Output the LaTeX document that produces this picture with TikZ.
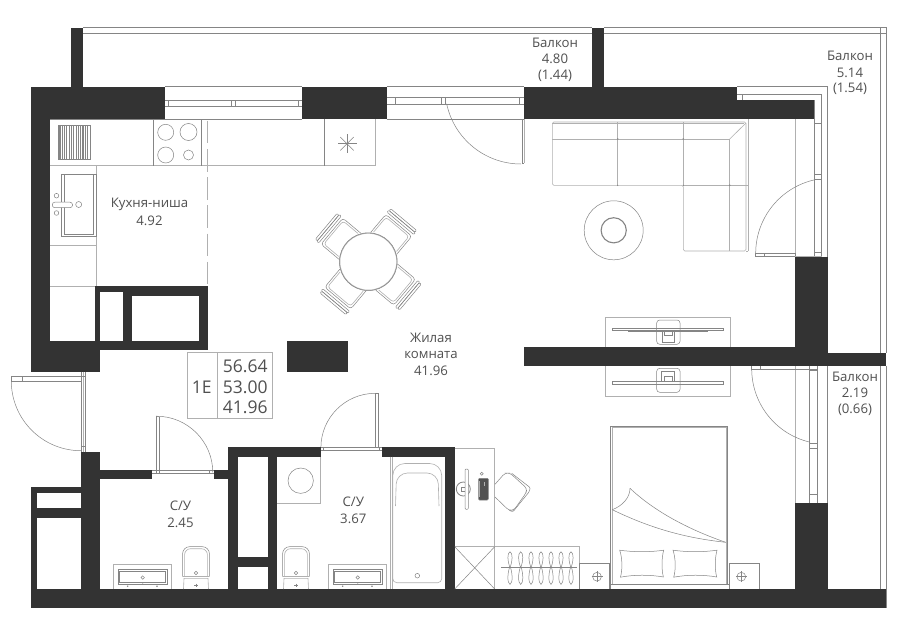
\documentclass[tikz,border=0pt]{standalone}
\usepackage{fontspec}
\setmainfont{Open Sans}
\definecolor{wallc}{HTML}{333333}
\definecolor{linec}{HTML}{858585}
\definecolor{lightc}{HTML}{B0B0B0}
\definecolor{textc}{HTML}{505050}
\tikzset{
  wall/.style={fill=wallc,draw=none},
  hole/.style={fill=white,draw=none},
  ln/.style={draw=linec,line width=0.5pt},
  lt/.style={draw=lightc,line width=0.6pt},
  lab/.style={text=textc,font=\fontsize{13.2}{16}\selectfont,inner sep=0pt,anchor=center},
  big/.style={text=textc,font=\fontsize{17.5}{20}\selectfont,inner sep=0pt,anchor=center},
}
\newcommand{\chairtop}[1]{%
  \begin{scope}[shift={(368.3,261.7)},rotate=#1]
    \draw[ln,rounded corners=3pt] (24,-17)--(47.5,-17)--(47.5,17)--(24,17);
    \draw[lt,rounded corners=3pt] (26,-15)--(45.5,-15)--(45.5,15)--(26,15);
    \draw[ln,rounded corners=1pt] (50,-17.5) rectangle (52.5,17.5);
    \draw[ln,rounded corners=1pt] (52.5,-16.8) rectangle (55,16.8);
  \end{scope}}
\newcommand{\hanger}[1]{%
  \draw[ln] (#1,551.8) .. controls (#1-3,553) and (#1-2.5,561) .. (#1-0.3,567)
   .. controls (#1-2.5,573) and (#1-3,583) .. (#1,584.4)
   .. controls (#1+3,583) and (#1+2.5,573) .. (#1+0.3,567)
   .. controls (#1+2.5,561) and (#1+3,553) .. (#1,551.8) -- cycle;}
\newcommand{\sinkunit}[1]{%
  \begin{scope}[xshift=#1]
    \draw[lt] (113.3,589)--(113.3,564.3)--(171.7,564.3)--(171.7,589);
    \draw[ln] (118,569.3) rectangle (167,584);
    \draw[ln] (119.7,571) rectangle (165.3,582.3);
    \draw[ln] (142.7,577.5) circle (1.7);
    \fill[linec] (127.7,586.2) circle (0.8) (157,586.2) circle (0.8) (142.7,582.8) circle (0.8);
  \end{scope}}
\newcommand{\toiletunit}[1]{%
  \begin{scope}[xshift=#1]
    \draw[ln,rounded corners=7pt] (182.6,576.5)--(182.6,546.7)--(209.4,546.7)--(209.4,576.5);
    \draw[lt,rounded corners=6pt] (184.6,576.5)--(184.6,548.7)--(207.4,548.7)--(207.4,576.5);
    \draw[lt] (182.6,576.7)--(209.4,576.7);
    \draw[lt] (183.5,589)--(184,578.4)--(208,578.4)--(208.5,589);
    \draw[ln] (196,573) circle (1.7);
    \draw[linec,line width=0.8pt] (194.3,585.4)--(197.7,585.4) (196,583.7)--(196,587.1);
  \end{scope}}
\newcommand{\pillow}[1]{%
  \begin{scope}[xshift=#1]
    \draw[ln] (619.7,550.2) .. controls (634,552.2) and (650,552.2) .. (663.7,550.2)
      .. controls (661.5,558) and (661.5,570) .. (663.4,577)
      .. controls (650,574.6) and (634,574.6) .. (620.4,577.2)
      .. controls (622.6,570) and (622.4,558) .. (619.7,550.2) -- cycle;
  \end{scope}}
\begin{document}
\begin{tikzpicture}[x=1pt,y=-1pt]
\useasboundingbox (0,0) rectangle (900,637);
\fill[white] (0,0) rectangle (900,637);

%% ---- thin outlines under the walls ----
% balconies
\draw[ln] (83,27.5)--(591.7,27.5) (83,33.5)--(591.7,33.5);
\draw[ln] (604.3,27.5)--(886.3,27.5)--(886.3,353.3);
\draw[ln] (604.3,33.5)--(880,33.5)--(880,353.3);
\draw[ln] (880,27.5)--(880,33.5)--(886.3,33.5);
\draw[ln] (886.3,366)--(886.3,608) (880,366)--(880,597.3);
\draw[ln] (827.7,366)--(827.7,597.3)--(880,597.3);
% first window
\draw[ln] (165,86.7)--(302.3,86.7) (165,119.3)--(302.3,119.3);
\draw[ln] (165,100)--(302.3,100) (165,106)--(302.3,106);
\draw[ln] (168.7,100)--(168.7,106) (231.3,100)--(231.3,106) (235.7,100)--(235.7,106) (298.3,100)--(298.3,106);
% second window and door
\draw[ln] (386.7,86.7)--(523.7,86.7) (386.7,119.3)--(523.7,119.3);
\draw[ln] (386.7,97.3)--(523.7,97.3) (386.7,104.3)--(523.7,104.3);
\draw[ln] (395.3,97.3)--(395.3,104.3) (441.3,97.3)--(441.3,104.3) (445.7,97.3)--(445.7,104.3) (519.3,97.3)--(519.3,104.3);
\draw[ln] (522.2,119.3)--(522.2,163)--(524,163);
\draw[lt] (524,119.3)--(524,163);
\draw[ln] (521,88) ++(168:76) arc[start angle=168,end angle=90,radius=76];
% right window and door
\draw[ln] (737.3,86.7)--(827.7,86.7)--(827.7,256.7);
\draw[ln] (737.3,94)--(821.7,94)--(821.7,256.7);
\draw[ln] (814,100)--(814,256.7);
\draw[ln] (742,94)--(742,100);
\draw[ln] (814,123.4)--(821.7,123.4) (814,174.7)--(821.7,174.7) (814,179)--(821.7,179) (814,252.3)--(821.7,252.3);
\draw[lt] (795,119.3)--(795,256.7);
\draw[lt] (748.3,119.3)--(748.3,251);
\draw[ln] (755.7,253.3) rectangle (795,256.7);
\draw[ln] (764.7,253.3)--(764.7,256.7);
\draw[lt] (795,256.7)--(821.7,256.7);
\draw[ln] (831,253.3) ++(180:75.3) arc[start angle=180,end angle=258,radius=75.3];
% lower right window and door
\draw[lt] (795,366)--(795,503.3);
\draw[ln] (809.7,366)--(809.7,503.3) (817.3,366)--(817.3,503.3);
\draw[ln] (751.7,366)--(751.7,368.8)--(817.3,368.8);
\draw[ln] (760.7,366)--(760.7,368.8);
\draw[ln] (809.7,370.4)--(817.3,370.4) (809.7,443.7)--(817.3,443.7) (809.7,448.4)--(817.3,448.4) (809.7,494.5)--(817.3,494.5);
\draw[ln] (827,368.8) ++(180:75.3) arc[start angle=180,end angle=103,radius=75.3];

% entrance door
\draw[ln] (81,371.7)--(81,451.7) (85.7,371.7)--(85.7,451.7);
\draw[lt] (83.3,371.7)--(83.3,451.7);
\draw[ln] (81,376.7)--(85.7,376.7) (81,446.7)--(85.7,446.7);
\draw[ln] (11.3,376.7) rectangle (81,381);
\draw[ln] (22.3,376.7)--(22.3,381);
\draw[ln] (81,381) ++(180:69.7) arc[start angle=180,end angle=90,radius=69.7];
% door of bathroom 2.45
\draw[ln] (152.3,470)--(213.7,470) (152.3,473)--(213.7,473);
\draw[ln] (156.5,470)--(156.5,473) (209.7,470)--(209.7,473);
\draw[ln] (156.4,416.2)--(156.4,473) (159,416.8)--(159,473);
\draw[ln] (156.4,416.2)--(159,416.8);
\draw[ln] (156.4,472.4) ++(270:56.2) arc[start angle=270,end angle=360,radius=56.4];
% door of bathroom 3.67
\draw[ln] (320.7,446.9)--(382.3,446.9) (320.7,450.3)--(382.3,450.3);
\draw[ln] (323.7,446.9)--(323.7,450.3) (379,446.9)--(379,450.3);
\draw[ln] (375.3,393.3) rectangle (378.7,447);
\draw[ln] (375.3,447.7) ++(180:54.4) arc[start angle=180,end angle=270,radius=54.4];

%% ---- walls ----
\fill[wall] (71,27.5) rectangle (83.3,87);
\fill[wall] (591.7,27.5) rectangle (604.3,87);
\fill[wall] (31,86.7) rectangle (165,119.3);
\fill[wall] (31,86.7) rectangle (50.3,371.7);
\fill[wall] (302.3,86.7) rectangle (386.7,119.3);
\fill[wall] (523.7,86.7) rectangle (737.3,119.3);
\fill[wall] (737,100) rectangle (814,119.3);
\fill[wall] (795,256.7) rectangle (827.7,353.3);
\fill[wall] (523.7,346.7) rectangle (827.7,366);
\fill[wall] (827,353.3) rectangle (886.3,366);
\fill[wall] (795,503.3) rectangle (827.7,597.5);
\fill[wall] (31,589) rectangle (886.3,608.3);
\fill[wall] (827,597.3) rectangle (886.3,608.3);
% niche
\fill[wall] (95.3,286) rectangle (207.7,350);
\fill[hole] (100.3,291.7) rectangle (123,340.7);
\fill[hole] (132.3,295.5) rectangle (198.7,340.7);
\fill[wall] (31,340.7) rectangle (95.5,350);
\fill[wall] (31,350) rectangle (100,371.7);
\fill[wall] (286.7,340.7) rectangle (348.3,371.7);
% lower walls
\fill[wall] (81,451.7) rectangle (100,589.5);
\fill[wall] (100,470) rectangle (152.3,479.3);
\fill[wall] (213.7,470) rectangle (228.5,479.3);
\fill[wall] (31,486.7) rectangle (81.5,589.5);
\fill[hole] (37.3,493.3) rectangle (81,508);
\fill[hole] (37.3,517.7) rectangle (81,589);
\fill[wall] (228.3,446.7) rectangle (277.3,589.5);
\fill[hole] (237.7,456.7) rectangle (268,557);
\fill[hole] (237.7,566.7) rectangle (268,589);
\fill[wall] (228.3,446.7) rectangle (320.7,456.7);
\fill[wall] (382.3,446.7) rectangle (454.7,456.7);
\fill[wall] (444.7,446.7) rectangle (454.7,589.5);

%% ---- kitchen ----
\draw[lt] (50.3,165.7)--(375,165.7)--(375,119.3);
\draw[ln] (50.3,119.6)--(165,119.6) (153.3,119.3)--(153.3,165.7) (201.5,119.3)--(201.5,165.7) (324.3,119.3)--(324.3,165.7);
\draw[lt,dash pattern=on 22.5pt off 5.7pt] (207.4,120.8)--(207.4,286);
\draw[ln] (58.3,125.3) rectangle (90.7,159);
\foreach \xx in {60,62.3,64.6,66.9,69.2,71.5,73.8,76.1,78.4,80.7,83,85.3,87.6}
  \draw[linec,line width=1.1pt] (\xx,125.6)--(\xx,158.7);
\draw[ln] (165.7,132.3) circle (8) (188.5,132) circle (8.5) (165.7,155) circle (8) (188.5,155) circle (5);
\foreach \aa in {0,45,...,315}
  \draw[ln] (347,143.7)--++(\aa:9.5);
\fill[linec] (347,143.7) circle (1);
\draw[lt] (96.3,165.7)--(96.3,286) (50.3,245)--(96.3,245) (50.3,286)--(95.3,286);
\draw[ln] (61.3,174.7) rectangle (96,236.3);
\draw[ln] (64.7,175)--(64.7,234)--(93.7,234)--(93.7,175);
\draw[ln,fill=white,rounded corners=2.5pt] (52.3,202.2) rectangle (72.5,207.7);
\draw[ln] (56.5,195.7) circle (2.3) (56.5,213) circle (2.3) (78.7,204.5) circle (3);

%% ---- dining table ----
\chairtop{50} \chairtop{-40} \chairtop{-130} \chairtop{140}
\draw[lightc,fill=white,line width=0.9pt] (368.3,261.7) circle (28.5);
\draw[linec,line width=0.5pt] (368.3,261.7) circle (28.9);

%% ---- sofa ----
\draw[lt,rounded corners=1.5pt] (552.3,122)--(746,122)--(746,251)--(683.3,251)--(683.3,185.3)--(552.3,185.3)--cycle;
\draw[lt] (552.3,123.7)--(744,123.7);
\draw[lt] (552.3,139)--(729.7,139)--(729.7,251);
\draw[lt] (729.7,139)--(746,123);
\draw[lt] (617.7,122)--(617.7,185.3) (683.3,122)--(683.3,185.3);
\draw[lt] (683.3,185.3)--(748.3,185.3);
\draw[lt] (746,251)--(748.3,251);
\fill[linec] (617.7,139) circle (0.9) (683.3,139) circle (0.9) (729.7,185.3) circle (0.9) (683.3,185.3) circle (0.7) (617.7,185.3) circle (0.7);
% coffee table
\draw[ln] (613.7,230.3) circle (29.5);
\draw[linec,line width=1.1pt] (613.7,230.3) circle (12.6);

%% ---- TV units ----
\draw[lt] (605.3,346.7)--(605.3,317.3)--(730.7,317.3)--(730.7,346.7);
\draw[ln] (612.3,327.8) rectangle (723.7,330.7);
\draw[linec,line width=0.8pt] (628.3,331)--(708.3,331);
\draw[ln,rounded corners=3pt] (656.7,320) rectangle (680,344.3);
\draw[ln] (662.7,331.7) rectangle (674,342.3);
\draw[ln] (664.5,331.7)--(664.5,335)--(672.3,335)--(672.3,331.7);
\draw[lt] (605.3,366)--(605.3,396)--(730.7,396)--(730.7,366);
\draw[ln] (612.3,381.7) rectangle (723.7,384.7);
\draw[linec,line width=0.8pt] (628.3,381.3)--(708.3,381.3);
\draw[ln,rounded corners=3pt] (656.7,368.3) rectangle (680,392.3);
\draw[ln] (661.7,371) rectangle (674.7,381.7);
\draw[ln] (664.5,381.7)--(664.5,376.7)--(672.3,376.7)--(672.3,381.7);

%% ---- desk ----
\draw[lt] (454.7,448.3) -- (494.7,448.3) -- (494.7,589);
\draw[lt] (454.7,546.7)--(579,546.7)--(579,589);
\draw[ln] (454.7,546.7)--(494.7,589) (494.7,546.7)--(454.7,589);
\draw[linec,line width=0.8pt] (463.3,489) circle (7);
\draw[ln] (461.5,487.5) rectangle (465,491);
\draw[ln,fill=white,rounded corners=1pt] (465,469) rectangle (468.3,509.3);
\draw[ln,fill=wallc!85,rounded corners=1pt] (478.5,478.3) rectangle (488.3,500);
\fill[lightc] (478.9,481) rectangle (480.2,497);
\fill[lightc] (483.5,481.5) rectangle (484.6,486);
\draw[ln] (481.7,473.7) circle (1.5);
% desk chair
\draw[ln,rounded corners=3pt] (495,484.3)--(505,473)--(510,473)--(527,488.5)--(526,493)--(514,510)--(509,510.5)--(495,497);
\draw[ln,rounded corners=1pt] (511.7,473.3)--(530.3,487.7)--(529,492)--(513,511.7)--(509.5,510.5);
% hangers
\foreach \hx in {510,520.7,531,541,551,561,571} {\hanger{\hx}}
\draw[linec] (501.2,567)--(576.7,567);

%% ---- bed and nightstands ----
\draw[ln] (610.3,589)--(610.3,426)--(727.7,426)--(727.7,584.3);
\draw[lt] (611.8,584.3)--(611.8,427.5)--(726.2,427.5)--(726.2,584.3);
\draw[ln] (609,589)--(609,584.3)--(729.3,584.3)--(729.3,589);
\draw[ln] (579,589)--(579,563.3)--(609,563.3)--(609,589);
\draw[ln] (729.3,589)--(729.3,563.3)--(759.7,563.3)--(759.7,589);
\draw[ln] (597,576.7) circle (4.4) (741.3,576.7) circle (4.4);
\draw[ln] (591.5,576.7)--(602.5,576.7) (597,571.2)--(597,582.2);
\draw[ln] (735.8,576.7)--(746.8,576.7) (741.3,571.2)--(741.3,582.2);
\draw[ln] (612.3,509.7) .. controls (650,528) and (685,538) .. (725.7,542.3);
\draw[ln] (630,488.3) .. controls (655,512) and (690,530) .. (725.7,542.3);
\draw[ln] (612.3,509.7) .. controls (622,506) and (630,498) .. (630,488.3);
\pillow{0} \pillow{53.3}

%% ---- bathrooms ----
\draw[lt] (277.3,503.3)--(320.7,503.3)--(320.7,456.7);
\draw[ln] (300.7,480.7) circle (12.7);
\sinkunit{0} \sinkunit{215}
\toiletunit{0} \toiletunit{100}
\draw[lt] (390,456.7)--(390,589) (392,456.7)--(392,589);
\draw[lt,rounded corners=12pt] (392.8,500)--(392.8,463.5)--(441.7,463.5)--(441.7,500);
\draw[lt,rounded corners=4pt] (392.8,500)--(392.8,582.7)--(441.7,582.7)--(441.7,500);
\draw[lt,rounded corners=11pt] (395.5,506)--(396.5,473)--(438,473)--(439,506);
\draw[ln] (417.3,575.7) circle (2.3);

%% ---- info table ----
\draw[lt] (187.3,352.7) rectangle (272.7,418.7);
\draw[lt] (217.7,352.7)--(217.7,418.7);
\node[big] (tcode) at (201.7,387) {1E};
\node[big] (ta) at (245.3,366.5) {56.64};
\node[big] (tb) at (245.3,387) {53.00};
\node[big] (tc) at (245.3,407.5) {41.96};

%% ---- labels ----
\node[lab] (b1a) at (555,42.7) {Балкон};
\node[lab] (b1b) at (555,59.3) {4.80};
\node[lab] (b1c) at (555,76) {(1.44)};
\node[lab] (b2a) at (850,56) {Балкон};
\node[lab] (b2b) at (850,72.5) {5.14};
\node[lab] (b2c) at (850,89) {(1.54)};
\node[lab] (b3a) at (855,376.7) {Балкон};
\node[lab] (b3b) at (855,393) {2.19};
\node[lab] (b3c) at (855,410) {(0.66)};
\node[lab] (ka) at (149.5,204) {Кухня-ниша};
\node[lab] (kb) at (149.5,220.7) {4.92};
\node[lab] (ra) at (431,338) {Жилая};
\node[lab] (rb) at (431,354.7) {комната};
\node[lab] (rc) at (431,371) {41.96};
\node[lab] (s1a) at (180.5,505.7) {С/У};
\node[lab] (s1b) at (180.5,522.7) {2.45};
\node[lab] (s2a) at (353.3,502) {С/У};
\node[lab] (s2b) at (353.3,518.7) {3.67};
\end{tikzpicture}
\end{document}
